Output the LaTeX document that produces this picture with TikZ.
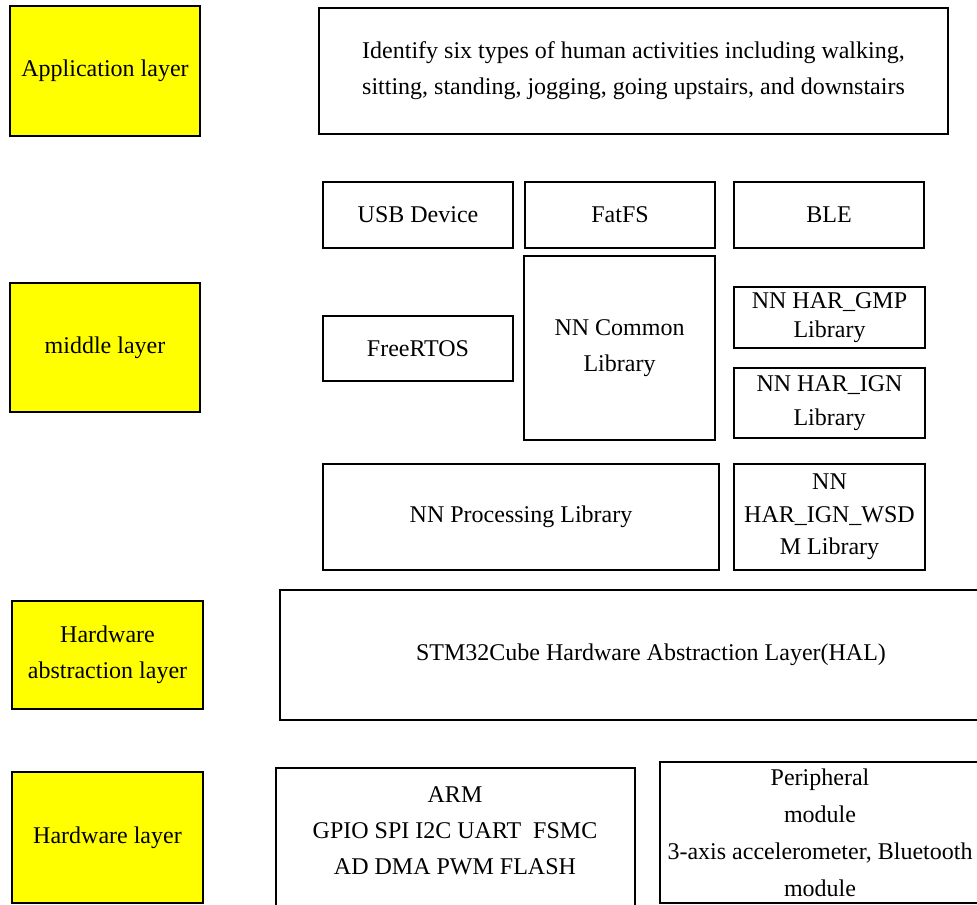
\documentclass[tikz,border=0pt]{standalone}
\usepackage{fontspec}
\setmainfont{Liberation Serif}
\definecolor{layeryellow}{RGB}{255,255,0}
\newcommand\mybox[7]{\node[#6,minimum width={(#4-#2)*0.75pt},minimum height={(#5-#3)*0.75pt}] (#1) at ({(#2+#4)/2},{(#3+#5)/2}) {#7};}
\tikzset{
  base/.style={draw=black,line width=1.4pt,rectangle,inner sep=1pt,align=center,
    font=\fontsize{18}{27}\selectfont},
  layer/.style={base,fill=layeryellow},
  wbox/.style={base,fill=white},
}
\begin{document}
\begin{tikzpicture}[x=0.75pt,y=-0.75pt]
\useasboundingbox (0,0) rectangle (977,905);
% layer labels
\mybox{applayer}{10}{6}{200}{136}{layer}{Application layer}
\mybox{midlayer}{10}{283}{200}{412}{layer}{middle layer}
\mybox{hallayer}{12}{601}{203}{709}{layer}{Hardware\\abstraction layer}
\mybox{hwlayer}{12}{772}{203}{903}{layer}{Hardware layer}
% application
\mybox{appbox}{319}{8}{948}{134}{wbox}{Identify six types of human activities including walking,\\sitting, standing, jogging, going upstairs, and downstairs}
% middle
\mybox{usb}{323}{182}{513}{248}{wbox}{USB Device}
\mybox{fatfs}{525}{182}{715}{248}{wbox}{FatFS}
\mybox{ble}{734}{182}{924}{248}{wbox}{BLE}
\mybox{nncommon}{524}{256}{715}{440}{wbox}{NN Common\\Library}
\mybox{freertos}{323}{316}{513}{381}{wbox}{FreeRTOS}
\mybox{gmp}{734}{287}{925}{348}{wbox,font=\fontsize{18}{22}\selectfont}{NN HAR\_GMP\\Library}
\mybox{ign}{734}{368}{925}{438}{wbox,font=\fontsize{18}{25}\selectfont}{NN HAR\_IGN\\Library}
\mybox{nnproc}{323}{464}{719}{570}{wbox}{NN Processing Library}
\mybox{wsdm}{734}{464}{925}{570}{wbox,font=\fontsize{18}{24.5}\selectfont}{NN\\HAR\_IGN\_WSD\\M Library}
% HAL
\mybox{hal}{280}{590}{1022}{720}{wbox}{STM32Cube Hardware Abstraction Layer(HAL)}
% hardware
\mybox{arm}{276}{768}{635}{915}{wbox}{}
\node[align=center,inner sep=0pt,font=\fontsize{18}{27}\selectfont] (armtext) at (455,831) {ARM\\GPIO SPI I2C UART\ \ FSMC\\AD DMA PWM FLASH};
\mybox{periph}{660}{762}{980}{903}{wbox,inner sep=0pt,font=\fontsize{18}{27.8}\selectfont}{Peripheral\\module\\3-axis accelerometer, Bluetooth\\module}
\end{tikzpicture}
\end{document}
